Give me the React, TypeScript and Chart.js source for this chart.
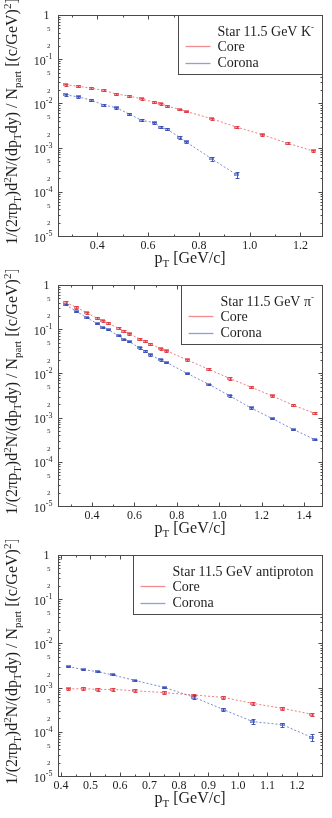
import React, { useEffect, useRef } from "react";
import { Chart, registerables } from "chart.js";

Chart.register(...registerables);

const SERIF = '"Liberation Serif", "Times New Roman", "DejaVu Serif", serif';

// ---------- Panel 1: K- ----------
const kaonCorePt = [0.275, 0.325, 0.375, 0.425, 0.475, 0.525, 0.575, 0.625, 0.65, 0.675, 0.725, 0.75, 0.85, 0.95, 1.05, 1.15, 1.25];
const kaonCoreY = [0.0265, 0.0244, 0.022, 0.0198, 0.0163, 0.0147, 0.0126, 0.0106, 0.0099, 0.0087, 0.0073, 0.0066, 0.0045, 0.0029, 0.00196, 0.00125, 0.00084];
const kaonCoreErr = [0.0013, 0.0012, 0.0011, 0.001, 0.0008, 0.0007, 0.0006, 0.0005, 0.0005, 0.0004, 0.00035, 0.0003, 0.00022, 0.00014, 0.0001, 0.00007, 0.00005];
const kaonCoronaPt = [0.275, 0.325, 0.375, 0.425, 0.475, 0.525, 0.575, 0.625, 0.65, 0.675, 0.725, 0.75, 0.85, 0.95];
const kaonCoronaY = [0.0157, 0.014, 0.0119, 0.0092, 0.008, 0.00575, 0.00415, 0.00366, 0.0029, 0.0026, 0.0017, 0.00134, 0.00056, 0.00024];
const kaonCoronaErr = [0.0007, 0.0006, 0.0005, 0.0004, 0.00035, 0.0003, 0.00022, 0.0002, 0.00017, 0.00015, 0.00014, 0.0001, 0.00006, 0.000035];
const kaonXTicks = [0.4, 0.6, 0.8, 1.0, 1.2];

// ---------- Panel 2: pi- ----------
const pionPt = [0.275, 0.325, 0.375, 0.425, 0.45, 0.475, 0.525, 0.55, 0.575, 0.625, 0.65, 0.675, 0.725, 0.75, 0.85, 0.95, 1.05, 1.15, 1.25, 1.35, 1.45];
const pionCoreY = [0.405, 0.313, 0.233, 0.176, 0.156, 0.136, 0.105, 0.0895, 0.0793, 0.06, 0.0531, 0.0455, 0.0363, 0.0327, 0.0201, 0.0124, 0.0077, 0.0049, 0.0031, 0.0019, 0.00125];
const pionCoreErr = [0.03, 0.02, 0.014, 0.01, 0.009, 0.008, 0.006, 0.005, 0.0045, 0.0034, 0.003, 0.0026, 0.002, 0.0018, 0.0011, 0.0007, 0.00045, 0.0003, 0.00018, 0.00011, 0.00007];
const pionCoronaY = [0.359, 0.254, 0.182, 0.133, 0.108, 0.0976, 0.0714, 0.058, 0.0522, 0.0376, 0.0321, 0.0261, 0.0201, 0.0178, 0.0099, 0.0057, 0.0031, 0.00165, 0.00095, 0.00054, 0.00032];
const pionCoronaErr = [0.012, 0.008, 0.006, 0.004, 0.0035, 0.003, 0.0022, 0.0018, 0.0016, 0.0012, 0.001, 0.0008, 0.0006, 0.0005, 0.0003, 0.00018, 0.0001, 0.00006, 0.00003, 0.00002, 0.000012];
const pionXTicks = [0.4, 0.6, 0.8, 1.0, 1.2, 1.4];

// ---------- Panel 3: antiproton ----------
const pbarPt = [0.425, 0.475, 0.525, 0.575, 0.65, 0.75, 0.85, 0.95, 1.05, 1.15, 1.25];
const pbarCoreY = [0.00093, 0.00095, 0.00091, 0.00091, 0.00085, 0.00077, 0.00068, 0.0006, 0.00044, 0.00034, 0.00025];
const pbarCoreErr = [0.00007, 0.00007, 0.00006, 0.00006, 0.00006, 0.00005, 0.00005, 0.00004, 0.00003, 0.000025, 0.00002];
const pbarCoronaY = [0.003, 0.00255, 0.00229, 0.00193, 0.00146, 0.00101, 0.00061, 0.00032, 0.00017, 0.000145, 0.000075];
const pbarCoronaErr = [0.00009, 0.00007, 0.00006, 0.00005, 0.00004, 0.00003, 0.00007, 0.00002, 0.000022, 0.000015, 0.000012];
const pbarXTicks = [0.4, 0.5, 0.6, 0.7, 0.8, 0.9, 1.0, 1.1, 1.2];

const seriesLabels = ["Core", "Corona"];
const panelTitles = ["K", "\u03c0", "antiproton"];
const yMajorExps = [0, -1, -2, -3, -4, -5];
const yMinorMantissas = [5, 2];

const CORE_LINE = "rgba(232, 80, 90, 0.75)";
const CORE_BAR = "rgba(225, 60, 70, 0.95)";
const CORE_FILL = "rgba(245, 160, 165, 0.6)";
const CORE_MK = "rgba(232, 90, 100, 0.7)";
const CORE_LEG = "rgba(238, 120, 125, 0.85)";
const CORONA_LINE = "rgba(80, 100, 195, 0.75)";
const CORONA_BAR = "rgba(60, 80, 185, 0.95)";
const CORONA_FILL = "rgba(150, 168, 225, 0.6)";
const CORONA_MK = "rgba(90, 110, 200, 0.7)";
const CORONA_LEG = "rgba(125, 145, 212, 0.85)";
const FRAME = "#4a4a4a";
const TEXT = "#1e1e1e";

type Seg = { t: string; k?: "sub" | "sup" };
type Series = { pt: number[]; y: number[]; err: number[]; line: string; bar: string; fill: string; mk: string; leg: string; label: string };
type PanelCfg = {
  series: Series[];
  xMin: number;
  xMax: number;
  xTicks: number[];
  xMinorStep: number;
  legendTitle: Seg[];
  height: number;
};

function font(size: number) {
  return `${size}px ${SERIF}`;
}

function makeMarker(fill: string, stroke: string) {
  const c = document.createElement("canvas");
  c.width = 5;
  c.height = 3;
  const g = c.getContext("2d")!;
  g.fillStyle = fill;
  g.fillRect(0, 0, 5, 3);
  g.strokeStyle = stroke;
  g.lineWidth = 1;
  g.strokeRect(0.5, 0.5, 4, 2);
  return c;
}

function richWidth(ctx: CanvasRenderingContext2D, segs: Seg[], base: number, small: number) {
  let w = 0;
  for (const s of segs) {
    ctx.font = font(s.k ? small : base);
    w += ctx.measureText(s.t).width;
  }
  return w;
}

function drawRich(ctx: CanvasRenderingContext2D, segs: Seg[], x: number, y: number, base: number, small: number, subOff: number, supOff: number) {
  let cx = x;
  for (const s of segs) {
    ctx.font = font(s.k ? small : base);
    const dy = s.k === "sub" ? subOff : s.k === "sup" ? -supOff : 0;
    ctx.fillText(s.t, cx, y + dy);
    cx += ctx.measureText(s.t).width;
  }
  return cx;
}

const yTitle: Seg[] = [
  { t: "1/(2\u03c0p" },
  { t: "T", k: "sub" },
  { t: ")d" },
  { t: "2", k: "sup" },
  { t: "N/(dp" },
  { t: "T", k: "sub" },
  { t: "dy) / N" },
  { t: "part", k: "sub" },
  { t: " [(c/GeV)" },
  { t: "2", k: "sup" },
  { t: "]" },
];

const xTitle: Seg[] = [{ t: "p" }, { t: "T", k: "sub" }, { t: " [GeV/c]" }];

function makePlugin(cfg: PanelCfg) {
  return {
    id: "decor",
    afterDatasetsDraw(chart: any) {
      const { ctx, chartArea: a } = chart;
      const xs = chart.scales.x;
      const ys = chart.scales.y;
      ctx.save();
      ctx.beginPath();
      ctx.rect(a.left, a.top, a.right - a.left, a.bottom - a.top);
      ctx.clip();
      for (const s of cfg.series) {
        ctx.strokeStyle = s.bar;
        ctx.lineWidth = 1;
        s.pt.forEach((x, i) => {
          const px = Math.round(xs.getPixelForValue(x)) + 0.5;
          const y1 = Math.round(ys.getPixelForValue(s.y[i] + s.err[i])) + 0.5;
          const y2 = Math.round(ys.getPixelForValue(Math.max(s.y[i] - s.err[i], 1e-7))) + 0.5;
          ctx.beginPath();
          ctx.moveTo(px, y1);
          ctx.lineTo(px, y2);
          ctx.moveTo(px - 2, y1);
          ctx.lineTo(px + 2, y1);
          ctx.moveTo(px - 2, y2);
          ctx.lineTo(px + 2, y2);
          ctx.stroke();
        });
      }
      ctx.restore();
    },
    afterDraw(chart: any) {
      const { ctx, chartArea: a } = chart;
      const xs = chart.scales.x;
      const ys = chart.scales.y;
      const L = Math.round(a.left) + 0.5;
      const R = Math.round(a.right) + 0.5;
      const T = Math.round(a.top) + 0.5;
      const B = Math.round(a.bottom) + 0.5;
      ctx.save();
      ctx.strokeStyle = FRAME;
      ctx.lineWidth = 1;
      // ticks (inward)
      ctx.beginPath();
      for (let e = -5; e <= 0; e++) {
        for (let m = 1; m <= 9; m++) {
          const v = m * Math.pow(10, e);
          if (v > 1.0001) continue;
          const py = Math.round(ys.getPixelForValue(v)) + 0.5;
          const len = m === 1 ? 4 : 2;
          ctx.moveTo(L, py);
          ctx.lineTo(L + len, py);
          ctx.moveTo(R, py);
          ctx.lineTo(R - len, py);
          if (e === 0) break;
        }
      }
      const st = cfg.xMinorStep;
      for (let k = Math.ceil(cfg.xMin / st - 1e-9); k * st <= cfg.xMax + 1e-9; k++) {
        const v = k * st;
        const px = Math.round(xs.getPixelForValue(v)) + 0.5;
        const major = cfg.xTicks.some((t) => Math.abs(t - v) < 1e-6);
        const len = major ? 4 : 2;
        ctx.moveTo(px, B);
        ctx.lineTo(px, B - len);
        ctx.moveTo(px, T);
        ctx.lineTo(px, T + len);
      }
      ctx.stroke();
      // frame
      ctx.strokeRect(L, T, R - L, B - T);

      // y tick labels
      ctx.fillStyle = TEXT;
      ctx.textBaseline = "alphabetic";
      ctx.textAlign = "left";
      for (const e of yMajorExps) {
        const py = ys.getPixelForValue(Math.pow(10, e));
        if (e === 0) {
          ctx.font = font(12);
          const w = ctx.measureText("1").width;
          ctx.fillText("1", 49.5 - w, py + 4.3);
        } else {
          const segs: Seg[] = [{ t: "10" }, { t: String(e), k: "sup" }];
          const w = richWidth(ctx, segs, 12, 8);
          drawRich(ctx, segs, 52.5 - w, py + 5.5, 12, 8, 0, 5.5);
        }
        if (e > -5) {
          for (const m of yMinorMantissas) {
            const v = m * Math.pow(10, e - 1);
            const pm = ys.getPixelForValue(v);
            ctx.font = font(7);
            const w = ctx.measureText(String(m)).width;
            ctx.fillText(String(m), 50.5 - w, pm + 2.5);
          }
        }
      }

      // y-axis title (rotated)
      const ty = (a.top + a.bottom) / 2 - 4;
      ctx.save();
      ctx.translate(17, ty);
      ctx.rotate(-Math.PI / 2);
      const tw = richWidth(ctx, yTitle, 16, 11);
      drawRich(ctx, yTitle, -tw / 2, 0, 16, 11, 4, 6.5);
      ctx.restore();

      // x-axis title
      const xw = richWidth(ctx, xTitle, 16, 11);
      drawRich(ctx, xTitle, (a.left + a.right) / 2 - xw / 2, a.top + 248, 16, 11, 4, 6);

      // legend
      const lw = richWidth(ctx, cfg.legendTitle, 14, 9);
      const boxR = R;
      const boxL = Math.round(boxR - 39 - lw - 9) + 0.5;
      const boxT = T;
      const boxB = Math.round(a.top + 59) + 0.5;
      ctx.fillStyle = "#ffffff";
      ctx.fillRect(boxL, boxT, boxR - boxL, boxB - boxT);
      ctx.strokeStyle = FRAME;
      ctx.strokeRect(boxL, boxT, boxR - boxL, boxB - boxT);
      ctx.fillStyle = TEXT;
      const textX = boxL + 39;
      drawRich(ctx, cfg.legendTitle, textX, a.top + 21, 14, 9, 4, 6);
      const rows = [a.top + 35.5, a.top + 52.3];
      const lineYs = [a.top + 30.5, a.top + 47.5];
      cfg.series.forEach((s, i) => {
        ctx.strokeStyle = s.leg;
        ctx.lineWidth = 1.3;
        ctx.beginPath();
        ctx.moveTo(boxL + 7, Math.round(lineYs[i]) + 0.5);
        ctx.lineTo(boxL + 32, Math.round(lineYs[i]) + 0.5);
        ctx.stroke();
        ctx.fillStyle = TEXT;
        ctx.font = font(14);
        ctx.fillText(s.label, textX, rows[i]);
      });
      ctx.restore();
    },
  };
}

function Panel({ cfg }: { cfg: PanelCfg }) {
  const ref = useRef<HTMLCanvasElement>(null);
  useEffect(() => {
    const canvas = ref.current;
    if (!canvas) return;
    const chart = new Chart(canvas, {
      type: "line",
      data: {
        datasets: cfg.series.map((s) => ({
          label: s.label,
          data: s.pt.map((x, i) => ({ x, y: s.y[i] })),
          borderColor: s.line,
          backgroundColor: s.fill,
          borderWidth: 1,
          borderDash: [2, 2],
          pointStyle: makeMarker(s.fill, s.mk),
          pointRadius: 3,
          tension: 0,
          fill: false,
        })),
      },
      options: {
        responsive: false,
        maintainAspectRatio: false,
        animation: false,
        events: [],
        layout: { padding: { top: 15, right: 10, left: 0, bottom: 0 } },
        plugins: { legend: { display: false }, tooltip: { enabled: false } },
        scales: {
          x: {
            type: "linear",
            min: cfg.xMin,
            max: cfg.xMax,
            afterBuildTicks: (s: any) => {
              s.ticks = cfg.xTicks.map((v) => ({ value: v }));
            },
            afterFit: (s: any) => {
              s.height = cfg.height - 236;
            },
            grid: { display: false, drawTicks: false },
            border: { display: false },
            ticks: {
              font: { family: SERIF, size: 12 },
              color: TEXT,
              padding: 3,
              maxRotation: 0,
              autoSkip: false,
              callback: (v: any) => Number(v).toFixed(1),
            },
          },
          y: {
            type: "logarithmic",
            min: 1e-5,
            max: 1,
            afterFit: (s: any) => {
              s.width = 58;
            },
            grid: { display: false, drawTicks: false },
            border: { display: false },
            ticks: { display: false },
          },
        },
      },
      plugins: [makePlugin(cfg)],
    } as any);
    return () => chart.destroy();
  }, [cfg]);
  return <canvas ref={ref} width={332} height={cfg.height} style={{ display: "block", width: 332, height: cfg.height }} />;
}

const panels: PanelCfg[] = [
  {
    series: [
      { pt: kaonCorePt, y: kaonCoreY, err: kaonCoreErr, line: CORE_LINE, bar: CORE_BAR, fill: CORE_FILL, mk: CORE_MK, leg: CORE_LEG, label: seriesLabels[0] },
      { pt: kaonCoronaPt, y: kaonCoronaY, err: kaonCoronaErr, line: CORONA_LINE, bar: CORONA_BAR, fill: CORONA_FILL, mk: CORONA_MK, leg: CORONA_LEG, label: seriesLabels[1] },
    ],
    xMin: 0.245,
    xMax: 1.285,
    xTicks: kaonXTicks,
    xMinorStep: 0.1,
    legendTitle: [{ t: "Star 11.5 GeV " + panelTitles[0] }, { t: "-", k: "sup" }],
    height: 270,
  },
  {
    series: [
      { pt: pionPt, y: pionCoreY, err: pionCoreErr, line: CORE_LINE, bar: CORE_BAR, fill: CORE_FILL, mk: CORE_MK, leg: CORE_LEG, label: seriesLabels[0] },
      { pt: pionPt, y: pionCoronaY, err: pionCoronaErr, line: CORONA_LINE, bar: CORONA_BAR, fill: CORONA_FILL, mk: CORONA_MK, leg: CORONA_LEG, label: seriesLabels[1] },
    ],
    xMin: 0.239,
    xMax: 1.485,
    xTicks: pionXTicks,
    xMinorStep: 0.1,
    legendTitle: [{ t: "Star 11.5 GeV " + panelTitles[1] }, { t: "-", k: "sup" }],
    height: 270,
  },
  {
    series: [
      { pt: pbarPt, y: pbarCoreY, err: pbarCoreErr, line: CORE_LINE, bar: CORE_BAR, fill: CORE_FILL, mk: CORE_MK, leg: CORE_LEG, label: seriesLabels[0] },
      { pt: pbarPt, y: pbarCoronaY, err: pbarCoronaErr, line: CORONA_LINE, bar: CORONA_BAR, fill: CORONA_FILL, mk: CORONA_MK, leg: CORONA_LEG, label: seriesLabels[1] },
    ],
    xMin: 0.39,
    xMax: 1.285,
    xTicks: pbarXTicks,
    xMinorStep: 0.05,
    legendTitle: [{ t: "Star 11.5 GeV " + panelTitles[2] }],
    height: 278,
  },
];

export default function App() {
  return (
    <div style={{ position: "absolute", left: 0, top: 0, width: 332, background: "#fff" }}>
      {panels.map((p, i) => (
        <Panel key={i} cfg={p} />
      ))}
    </div>
  );
}
